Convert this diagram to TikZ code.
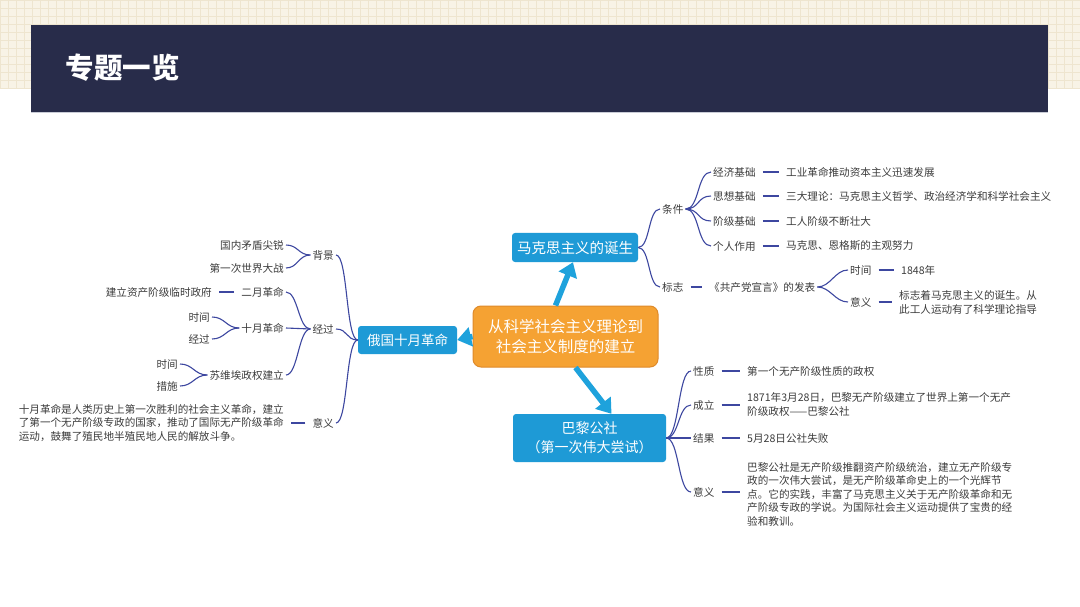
\documentclass[tikz,border=0pt]{standalone}
\usepackage{fontspec}
\setmainfont{Noto Sans CJK SC}
\definecolor{headerNavy}{HTML}{282C4A}
\definecolor{barEdge}{HTML}{C9CCD6}
\definecolor{paperBeige}{HTML}{F8F3E6}
\definecolor{gridBeige}{HTML}{EEE5CF}
\definecolor{hubOrange}{HTML}{F5A233}
\definecolor{hubEdge}{HTML}{DF8A2A}
\definecolor{boxBlue}{HTML}{1E9AD6}
\definecolor{arrowBlue}{HTML}{1EA2DC}
\definecolor{linkNavy}{HTML}{3D47A0}
\definecolor{textGrey}{HTML}{3C3C3C}
\usepackage{tikz}
\usetikzlibrary{calc, arrows.meta}

\begin{document}
\begin{tikzpicture}[x=1pt, y=-1pt,
    topic/.style={fill=boxBlue, text=white, rounded corners=3pt, align=center, inner sep=2pt},
    leaf/.style={text=textGrey, font=\fontsize{10.6}{13.5}\selectfont, inner sep=2pt, align=left},
    link/.style={draw=linkNavy, line width=1.1pt},
    tie/.style={link, shorten <=5pt, shorten >=5pt},
    bigarrow/.style={draw=arrowBlue, line width=5.5pt, -{Triangle[length=14pt, width=19pt]}}]

  % page, header bar
  \useasboundingbox (0,0) rectangle (1080,607);
  \fill[white] (0,0) rectangle (1080,607);
  \fill[paperBeige] (0,0) rectangle (1080,88);
  \draw[gridBeige, line width=0.4pt, step=8pt] (0,0) grid (1080,88);
  \fill[headerNavy] (31,25) rectangle (1048,112);
  \draw[barEdge, line width=1pt] (31,112.5) -- (1048,112.5);
  \node[anchor=west, text=white, font=\fontsize{28.5}{32}\selectfont\bfseries] (title) at (62,68) {专题一览};

  % centre and main topics
  \node[fill=hubOrange, draw=hubEdge, line width=1pt, rounded corners=8pt, text=white, align=center,
        minimum width=185pt, minimum height=61pt, font=\fontsize{15.5}{20}\selectfont] (hub) at (565.5,336.5)
        {从科学社会主义理论到\\社会主义制度的建立};
  \node[topic, minimum width=126pt, minimum height=29pt, font=\fontsize{14.5}{18}\selectfont] (marx) at (575,247.5) {马克思主义的诞生};
  \node[topic, minimum width=99pt, minimum height=28pt, font=\fontsize{13.5}{17}\selectfont] (russia) at (407.5,340) {俄国十月革命};
  \node[topic, minimum width=153pt, minimum height=48pt, font=\fontsize{14}{19}\selectfont] (paris) at (589.5,438) {巴黎公社\\（第一次伟大尝试）};

  \draw[bigarrow] ($(hub.north)+(-10,0)$) -- ($(marx.south)+(-2,0)$);
  \draw[bigarrow] (hub.west) -- (russia.east);
  \draw[bigarrow] ($(hub.south)+(10,0)$) -- ($(paris.north)+(22,0)$);

  % Marxism branch
  \node[leaf, anchor=west] (cond) at (660,209) {条件};
  \node[leaf, anchor=west] (sign) at (660,287) {标志};
  \foreach \c in {cond, sign}
    \draw[link] (marx.east) .. controls +(12,0) and +(-12,0) .. (\c.west);

  \node[leaf, anchor=west] (econ) at (711,172) {经济基础};
  \node[leaf, anchor=west] (idea) at (711,196) {思想基础};
  \node[leaf, anchor=west] (clas) at (711,221) {阶级基础};
  \node[leaf, anchor=west] (pers) at (711,246) {个人作用};
  \foreach \c in {econ, idea, clas, pers}
    \draw[link] (cond.east) .. controls +(14,0) and +(-14,0) .. (\c.west);
  \node[leaf, anchor=west] (econT) at (784,172) {工业革命推动资本主义迅速发展};
  \node[leaf, anchor=west] (ideaT) at (784,196) {三大理论：马克思主义哲学、政治经济学和科学社会主义};
  \node[leaf, anchor=west] (clasT) at (784,221) {工人阶级不断壮大};
  \node[leaf, anchor=west] (persT) at (784,246) {马克思、恩格斯的主观努力};
  \foreach \a/\b in {econ/econT, idea/ideaT, clas/clasT, pers/persT}
    \draw[tie] (\a.east) -- (\a.east -| \b.west);

  \node[leaf, anchor=west] (mani) at (707,287) {《共产党宣言》的发表};
  \draw[tie] (sign.east) -- (sign.east -| mani.west);
  \node[leaf, anchor=west] (mtime) at (848,270) {时间};
  \node[leaf, anchor=west] (mmean) at (848,302) {意义};
  \foreach \c in {mtime, mmean}
    \draw[link] (mani.east) .. controls +(13,0) and +(-13,0) .. (\c.west);
  \node[leaf, anchor=west] (mtimeT) at (899,270) {1848年};
  \node[leaf, anchor=west] (mmeanT) at (897,302.5) {标志着马克思主义的诞生。从\\此工人运动有了科学理论指导};
  \draw[tie] (mtime.east) -- (mtime.east -| mtimeT.west);
  \draw[tie] (mmean.east) -- (mmean.east -| mmeanT.west);

  % October Revolution branch
  \node[leaf, anchor=east] (back) at (336,255) {背景};
  \node[leaf, anchor=east] (proc) at (336,329) {经过};
  \node[leaf, anchor=east] (rmean) at (336,423) {意义};
  \foreach \c in {back, proc, rmean}
    \draw[link] (russia.west) .. controls +(-12,0) and +(12,0) .. (\c.east);

  \node[leaf, anchor=east] (crisis) at (286,245) {国内矛盾尖锐};
  \node[leaf, anchor=east] (war) at (286,268) {第一次世界大战};
  \foreach \c in {crisis, war}
    \draw[link] (back.west) .. controls +(-12,0) and +(12,0) .. (\c.east);

  \node[leaf, anchor=east] (feb) at (286,292) {二月革命};
  \node[leaf, anchor=east] (oct) at (286,328) {十月革命};
  \node[leaf, anchor=east] (sov) at (286,375) {苏维埃政权建立};
  \foreach \c in {feb, oct, sov}
    \draw[link] (proc.west) .. controls +(-12,0) and +(12,0) .. (\c.east);
  \node[leaf, anchor=east] (febT) at (214,292) {建立资产阶级临时政府};
  \draw[tie] (feb.west) -- (feb.west -| febT.east);

  \node[leaf, anchor=east] (octA) at (212,317) {时间};
  \node[leaf, anchor=east] (octB) at (212,339) {经过};
  \foreach \c in {octA, octB}
    \draw[link] (oct.west) .. controls +(-13,0) and +(13,0) .. (\c.east);
  \node[leaf, anchor=east] (sovA) at (180,364) {时间};
  \node[leaf, anchor=east] (sovB) at (180,386) {措施};
  \foreach \c in {sovA, sovB}
    \draw[link] (sov.west) .. controls +(-13,0) and +(13,0) .. (\c.east);

  \node[leaf, anchor=east] (rmeanT) at (286,423)
    {十月革命是人类历史上第一次胜利的社会主义革命，建立\\了第一个无产阶级专政的国家，推动了国际无产阶级革命\\运动，鼓舞了殖民地半殖民地人民的解放斗争。};
  \draw[tie] (rmean.west) -- (rmean.west -| rmeanT.east);

  % Paris Commune branch
  \node[leaf, anchor=west] (nat) at (691,371) {性质};
  \node[leaf, anchor=west] (found) at (691,405) {成立};
  \node[leaf, anchor=west] (res) at (691,438) {结果};
  \node[leaf, anchor=west] (pmean) at (691,492) {意义};
  \foreach \c in {nat, found, res, pmean}
    \draw[link] (paris.east) .. controls +(13,0) and +(-13,0) .. (\c.west);
  \node[leaf, anchor=west] (natT) at (745,371) {第一个无产阶级性质的政权};
  \node[leaf, anchor=west] (foundT) at (745,404.5) {1871年3月28日，巴黎无产阶级建立了世界上第一个无产\\阶级政权——巴黎公社};
  \node[leaf, anchor=west] (resT) at (745,438) {5月28日公社失败};
  \node[leaf, anchor=west] (pmeanT) at (745,494)
    {巴黎公社是无产阶级推翻资产阶级统治，建立无产阶级专\\政的一次伟大尝试，是无产阶级革命史上的一个光辉节\\点。它的实践，丰富了马克思主义关于无产阶级革命和无\\产阶级专政的学说。为国际社会主义运动提供了宝贵的经\\验和教训。};
  \foreach \a/\b in {nat/natT, found/foundT, res/resT, pmean/pmeanT}
    \draw[tie] (\a.east) -- (\a.east -| \b.west);
\end{tikzpicture}
\end{document}
